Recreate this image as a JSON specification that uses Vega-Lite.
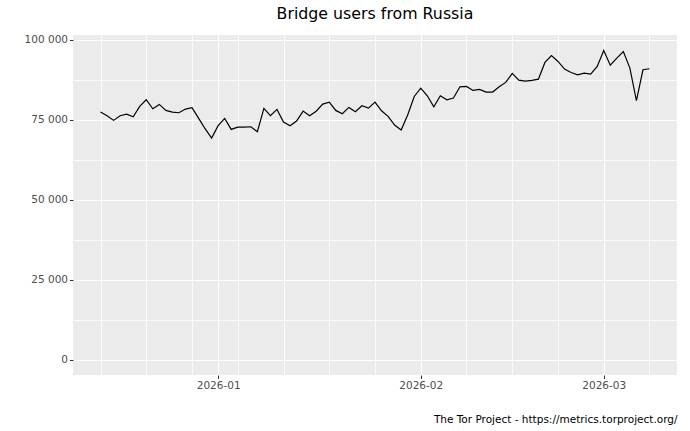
{
  "$schema": "https://vega.github.io/schema/vega-lite/v6.json",
  "width": 604,
  "height": 340,
  "autosize": {"type": "none"},
  "padding": {"left": 73, "top": 35, "right": 13, "bottom": 56},
  "background": "white",
  "title": {
    "text": "Bridge users from Russia",
    "fontSize": 15.8,
    "fontWeight": "normal",
    "color": "black",
    "anchor": "middle",
    "offset": 12
  },
  "config": {
    "font": "DejaVu Sans",
    "view": {"fill": "#EBEBEB", "stroke": null}
  },
  "data": {
    "values": [
      {"date": "2025-12-14", "users": 77400},
      {"date": "2025-12-15", "users": 76250},
      {"date": "2025-12-16", "users": 74800},
      {"date": "2025-12-17", "users": 76250},
      {"date": "2025-12-18", "users": 76770},
      {"date": "2025-12-19", "users": 75940},
      {"date": "2025-12-20", "users": 79170},
      {"date": "2025-12-21", "users": 81250},
      {"date": "2025-12-22", "users": 78440},
      {"date": "2025-12-23", "users": 79790},
      {"date": "2025-12-24", "users": 77920},
      {"date": "2025-12-25", "users": 77400},
      {"date": "2025-12-26", "users": 77190},
      {"date": "2025-12-27", "users": 78330},
      {"date": "2025-12-28", "users": 78750},
      {"date": "2025-12-29", "users": 75500},
      {"date": "2025-12-30", "users": 72200},
      {"date": "2025-12-31", "users": 69270},
      {"date": "2026-01-01", "users": 73130},
      {"date": "2026-01-02", "users": 75420},
      {"date": "2026-01-03", "users": 71980},
      {"date": "2026-01-04", "users": 72710},
      {"date": "2026-01-05", "users": 72710},
      {"date": "2026-01-06", "users": 72810},
      {"date": "2026-01-07", "users": 71250},
      {"date": "2026-01-08", "users": 78540},
      {"date": "2026-01-09", "users": 76250},
      {"date": "2026-01-10", "users": 78230},
      {"date": "2026-01-11", "users": 74270},
      {"date": "2026-01-12", "users": 73130},
      {"date": "2026-01-13", "users": 74580},
      {"date": "2026-01-14", "users": 77710},
      {"date": "2026-01-15", "users": 76250},
      {"date": "2026-01-16", "users": 77650},
      {"date": "2026-01-17", "users": 79900},
      {"date": "2026-01-18", "users": 80520},
      {"date": "2026-01-19", "users": 77920},
      {"date": "2026-01-20", "users": 76880},
      {"date": "2026-01-21", "users": 78850},
      {"date": "2026-01-22", "users": 77500},
      {"date": "2026-01-23", "users": 79370},
      {"date": "2026-01-24", "users": 78650},
      {"date": "2026-01-25", "users": 80520},
      {"date": "2026-01-26", "users": 77810},
      {"date": "2026-01-27", "users": 76040},
      {"date": "2026-01-28", "users": 73330},
      {"date": "2026-01-29", "users": 71770},
      {"date": "2026-01-30", "users": 76460},
      {"date": "2026-01-31", "users": 82290},
      {"date": "2026-02-01", "users": 84900},
      {"date": "2026-02-02", "users": 82500},
      {"date": "2026-02-03", "users": 79060},
      {"date": "2026-02-04", "users": 82500},
      {"date": "2026-02-05", "users": 81250},
      {"date": "2026-02-06", "users": 81770},
      {"date": "2026-02-07", "users": 85310},
      {"date": "2026-02-08", "users": 85420},
      {"date": "2026-02-09", "users": 84170},
      {"date": "2026-02-10", "users": 84480},
      {"date": "2026-02-11", "users": 83650},
      {"date": "2026-02-12", "users": 83650},
      {"date": "2026-02-13", "users": 85310},
      {"date": "2026-02-14", "users": 86670},
      {"date": "2026-02-15", "users": 89480},
      {"date": "2026-02-16", "users": 87400},
      {"date": "2026-02-17", "users": 87080},
      {"date": "2026-02-18", "users": 87290},
      {"date": "2026-02-19", "users": 87700},
      {"date": "2026-02-20", "users": 92920},
      {"date": "2026-02-21", "users": 95100},
      {"date": "2026-02-22", "users": 93230},
      {"date": "2026-02-23", "users": 90830},
      {"date": "2026-02-24", "users": 89790},
      {"date": "2026-02-25", "users": 89060},
      {"date": "2026-02-26", "users": 89580},
      {"date": "2026-02-27", "users": 89270},
      {"date": "2026-02-28", "users": 91670},
      {"date": "2026-03-01", "users": 96670},
      {"date": "2026-03-02", "users": 92080},
      {"date": "2026-03-03", "users": 94270},
      {"date": "2026-03-04", "users": 96350},
      {"date": "2026-03-05", "users": 91150},
      {"date": "2026-03-06", "users": 80940},
      {"date": "2026-03-07", "users": 90630},
      {"date": "2026-03-08", "users": 90940}
    ]
  },
  "mark": {"type": "line", "color": "black", "strokeWidth": 1.2},
  "encoding": {
    "x": {
      "field": "date",
      "type": "temporal",
      "scale": {
        "type": "utc",
        "domain": [
          {"year": 2025, "month": 12, "date": 9, "hours": 19, "utc": true},
          {"year": 2026, "month": 3, "date": 12, "hours": 5, "utc": true}
        ]
      },
      "axis": {
        "title": "The Tor Project - https://metrics.torproject.org/",
        "titleAnchor": "end",
        "titleFontWeight": "normal",
        "titleFontSize": 10.5,
        "titleColor": "black",
        "titlePadding": 23,
        "values": [
          {"year": 2025, "month": 12, "date": 14, "utc": true},
          {"year": 2025, "month": 12, "date": 21, "utc": true},
          {"year": 2025, "month": 12, "date": 28, "utc": true},
          {"year": 2026, "month": 1, "date": 1, "utc": true},
          {"year": 2026, "month": 1, "date": 4, "utc": true},
          {"year": 2026, "month": 1, "date": 11, "utc": true},
          {"year": 2026, "month": 1, "date": 18, "utc": true},
          {"year": 2026, "month": 1, "date": 25, "utc": true},
          {"year": 2026, "month": 2, "date": 1, "utc": true},
          {"year": 2026, "month": 2, "date": 8, "utc": true},
          {"year": 2026, "month": 2, "date": 15, "utc": true},
          {"year": 2026, "month": 2, "date": 22, "utc": true},
          {"year": 2026, "month": 3, "date": 1, "utc": true},
          {"year": 2026, "month": 3, "date": 8, "utc": true}
        ],
        "labelExpr": "utcdate(datum.value) == 1 ? utcFormat(datum.value, '%Y-%m') : ''",
        "labelOverlap": false,
        "labelFlush": false,
        "labelColor": "#4D4D4D",
        "labelFontSize": 10.5,
        "labelPadding": 2,
        "domain": false,
        "tickColor": "#333333",
        "tickSize": 3.5,
        "tickOpacity": {"condition": {"test": "utcdate(datum.value) == 1", "value": 1}, "value": 0},
        "gridColor": "white",
        "gridOpacity": 1,
        "gridWidth": {"condition": {"test": "utcdate(datum.value) == 1", "value": 1.2}, "value": 0.8}
      }
    },
    "y": {
      "field": "users",
      "type": "quantitative",
      "scale": {"domain": [-4833, 101503], "nice": false, "zero": false},
      "axis": {
        "title": null,
        "values": [0, 12500, 25000, 37500, 50000, 62500, 75000, 87500, 100000],
        "labelExpr": "datum.value % 25000 == 0 ? replace(format(datum.value, ','), ',', ' ') : ''",
        "labelOverlap": false,
        "labelFlush": false,
        "labelColor": "#4D4D4D",
        "labelFontSize": 10.5,
        "labelPadding": 2,
        "domain": false,
        "tickColor": "#333333",
        "tickSize": 3.5,
        "tickOpacity": {"condition": {"test": "datum.value % 25000 == 0", "value": 1}, "value": 0},
        "gridColor": "white",
        "gridOpacity": 1,
        "gridWidth": {"condition": {"test": "datum.value % 25000 == 0", "value": 1.2}, "value": 0.8}
      }
    }
  }
}
